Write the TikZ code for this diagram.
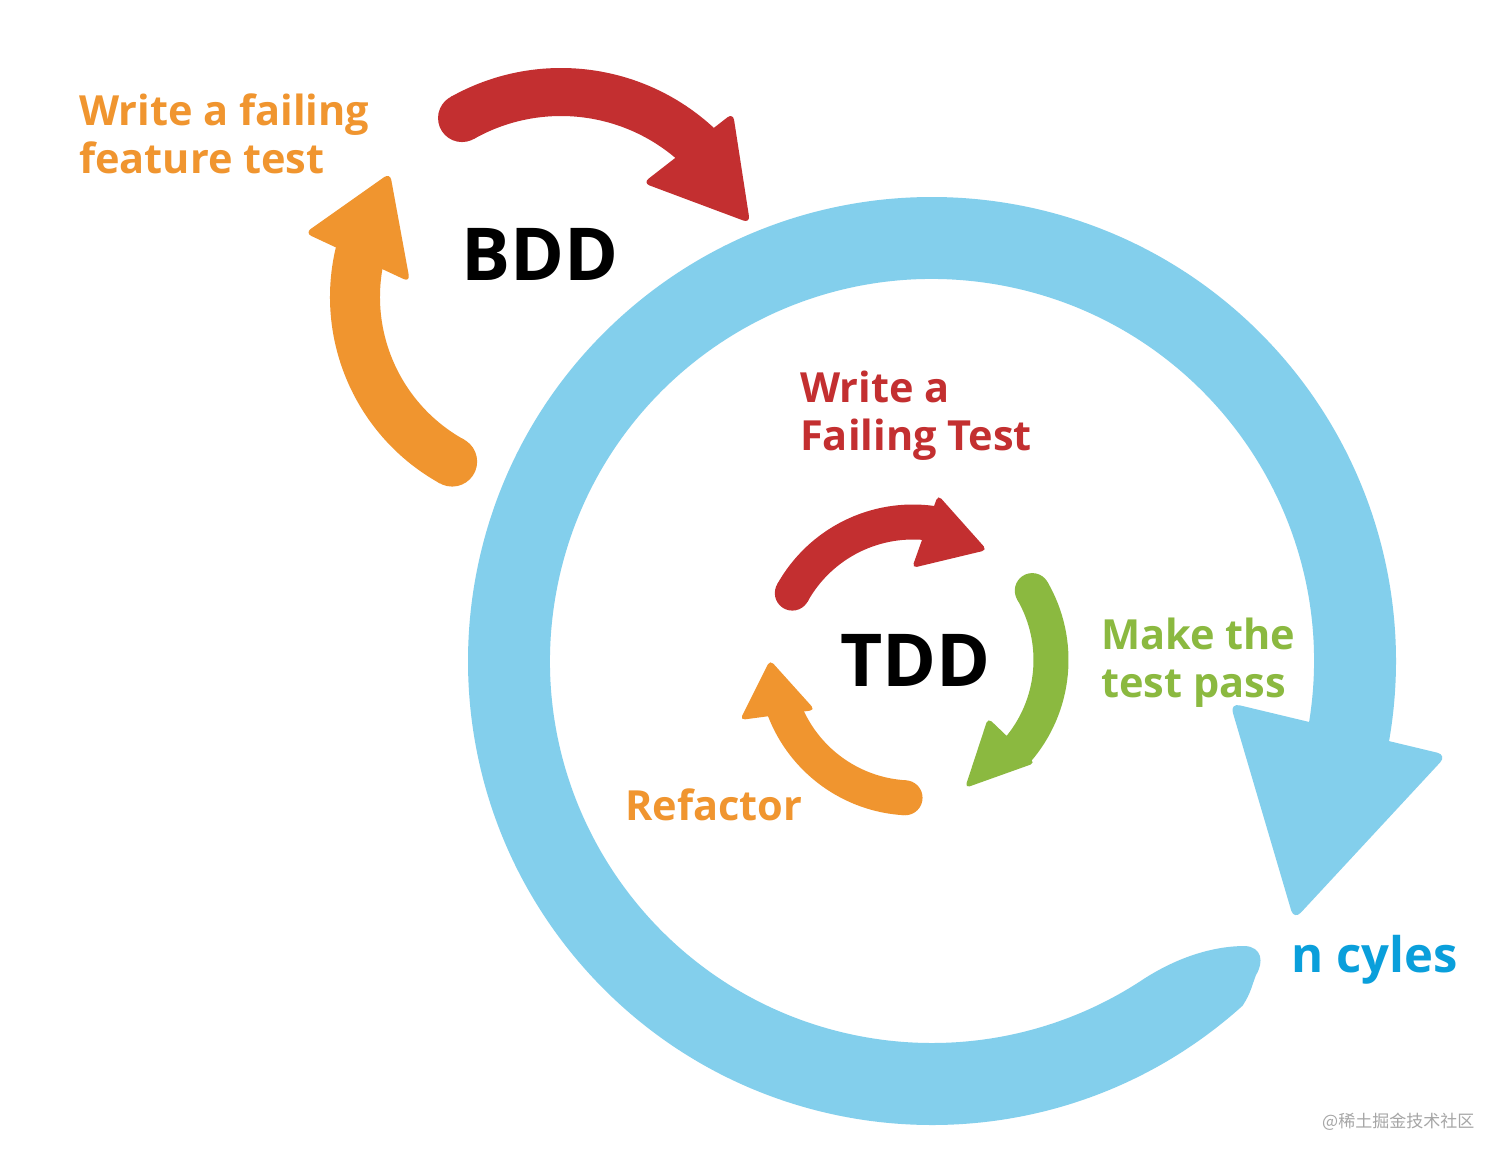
\documentclass[tikz,border=0pt]{standalone}
\usepackage{fontspec}
\usetikzlibrary{calc}
\setmainfont{Open Sans}
\newfontfamily\cjk{Noto Sans CJK SC}
\definecolor{cred}{HTML}{C32F30}
\definecolor{corange}{HTML}{F0952F}
\definecolor{cgreen}{HTML}{8BB940}
\definecolor{cring}{HTML}{83CFEC}
\definecolor{ctxtblue}{HTML}{0A9FDB}
\tikzset{
  lbl/.style={anchor=base west, inner sep=0pt, align=left, font=\bfseries\fontsize{41.5}{48}\selectfont},
  bigt/.style={anchor=base west, inner sep=0pt, font=\bfseries\fontsize{73}{73}\selectfont},
  bigshaft/.style={line width=48pt},
  smallshaft/.style={line width=35pt},
  bighead/.style={rounded corners=7pt},
  smallhead/.style={rounded corners=5pt},
}
\begin{document}
\begin{tikzpicture}[x=1pt,y=-1pt]
\useasboundingbox (0,0) rectangle (1512,1159);
\fill[white] (0,0) rectangle (1512,1159);

% ---- big blue ring (n cycles) ----
\fill[cring] (932,661) ++(48:464) arc[start angle=48,end angle=371,radius=464]
  -- ($(932,661)+(370:382)$)
  arc[start angle=370,end angle=57,radius=382]
  .. controls (1175,958) and (1212,946) .. (1245,946)
  .. controls (1262,947) and (1264,962) .. (1256,975)
  .. controls (1252,985) and (1251,993) .. cycle;
\fill[cring, rounded corners=10pt] (1230,703) -- (1447,755) -- (1294,920) -- cycle;

% ---- BDD red arrow ----
\draw[cred, bigshaft] (561,293) ++(240.5:201) arc[start angle=240.5,end angle=313,radius=201];
\fill[cred] (561,293) ++(240.5:201) circle[radius=24];
\fill[cred, bighead] (643,183) -- (733,113) -- (750,223) -- cycle;

% ---- BDD orange arrow ----
\draw[corange, line width=50pt] (543,297) ++(118.9:188) arc[start angle=118.9,end angle=194,radius=188];
\fill[corange] (543,297) ++(118.9:188) circle[radius=25];
\fill[corange, bighead] (305,233) -- (390,173) -- (410,282) -- cycle;

% ---- TDD red arrow ----
\draw[cred, smallshaft] (913,660) ++(209:138) arc[start angle=209,end angle=278,radius=138];
\fill[cred] (913,660) ++(209:138) circle[radius=17.5];
\fill[cred, smallhead] (912,568) -- (938,495) -- (987,550) -- cycle;

% ---- TDD green arrow ----
\draw[cgreen, smallshaft] (913,660) ++(-30.2:138) arc[start angle=-30.2,end angle=41,radius=138];
\fill[cgreen] (913,660) ++(-30.2:138) circle[radius=17.5];
\fill[cgreen, smallhead] (988,718) -- (1035,763) -- (965,788) -- cycle;

% ---- TDD orange arrow ----
\draw[corange, smallshaft] (913,660) ++(93.3:138) arc[start angle=93.3,end angle=159,radius=138];
\fill[corange] (913,660) ++(93.3:138) circle[radius=17.5];
\fill[corange, smallhead] (815,710) -- (770,660) -- (740,720) -- cycle;

% ---- texts (anchor = baseline of last line) ----
\node[lbl, text=corange] (featuretxt) at (79,173) {Write a failing\\feature test};
\node[bigt] (bdd) at (461,280) {BDD};
\node[lbl, text=cred] (failtxt) at (800,450) {Write a\\Failing Test};
\node[bigt] (tdd) at (840,686) {TDD};
\node[lbl, text=cgreen] (passtxt) at (1101,697) {Make the\\test pass};
\node[lbl, text=corange] (refactxt) at (625,820) {Refactor};
\node[anchor=base west, inner sep=0pt, text=ctxtblue, font=\bfseries\fontsize{49}{49}\selectfont] (ncyc) at (1291,972) {n cyles};
\node[anchor=base west, inner sep=0pt, text=black!35, font=\cjk\fontsize{17}{17}\selectfont] (wm) at (1322,1127) {@稀土掘金技术社区};
\end{tikzpicture}
\end{document}
